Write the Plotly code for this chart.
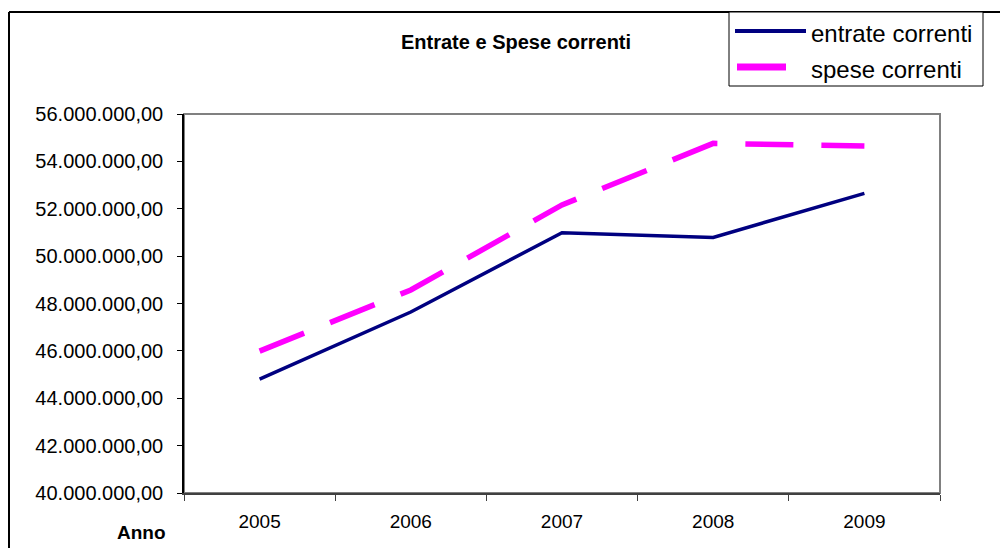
import plotly.graph_objects as go

years = ["2005", "2006", "2007", "2008", "2009"]
entrate_correnti = [44.81e6, 47.64e6, 50.99e6, 50.79e6, 52.65e6]
spese_correnti = [45.99e6, 48.57e6, 52.16e6, 54.76e6, 54.65e6]
y_ticks = [40e6, 42e6, 44e6, 46e6, 48e6, 50e6, 52e6, 54e6, 56e6]

OFF = 8  # page body margin offset
W, H = 1008 - OFF, 556 - 2 * OFF
# plot area in page pixel coordinates of the reference
PL, PR, PT, PB = 184, 940, 114, 493
L, R, T, B = PL - OFF, PR - OFF, PT - OFF, PB - OFF


def px(x):
    return (x - PL) / (PR - PL)


def py(y):
    return (PB - y) / (PB - PT)


fig = go.Figure()
fig.add_trace(go.Scatter(x=years, y=entrate_correnti, mode="lines", name="entrate correnti",
                         line=dict(color="#000080", width=3.5), showlegend=False))
fig.add_trace(go.Scatter(x=years, y=spese_correnti, mode="lines", name="spese correnti",
                         line=dict(color="#FF00FF", width=5.5, dash="48px,28px"), showlegend=False))

shapes = [
    # outer chart border (left and top edges; the rest lies outside the view)
    dict(type="line", xref="paper", yref="paper", x0=px(9), x1=px(9), y0=py(12), y1=py(560),
         line=dict(color="#000000", width=2), layer="below"),
    dict(type="line", xref="paper", yref="paper", x0=px(9), x1=px(1012), y0=py(12), y1=py(12),
         line=dict(color="#000000", width=2), layer="below"),
    # plot area border (gray)
    dict(type="rect", xref="paper", yref="paper", x0=0, x1=1, y0=0, y1=1,
         line=dict(color="#808080", width=2), layer="below"),
    # legend box
    dict(type="rect", xref="paper", yref="paper", x0=px(729), x1=px(983), y0=py(86), y1=py(12),
         line=dict(color="#000000", width=1), fillcolor="white", layer="above"),
    # legend samples
    dict(type="line", xref="paper", yref="paper", x0=px(735), x1=px(806), y0=py(31), y1=py(31),
         line=dict(color="#000080", width=4), layer="above"),
    dict(type="line", xref="paper", yref="paper", x0=px(737), x1=px(786), y0=py(67), y1=py(67),
         line=dict(color="#FF00FF", width=7), layer="above"),
]

FONT = "Liberation Sans, Arial"
annotations = [
    dict(text="<b>Entrate e Spese correnti</b>", xref="paper", yref="paper", x=px(516), y=py(42),
         xanchor="center", yanchor="middle", showarrow=False,
         font=dict(family=FONT, size=20, color="#000000")),
    dict(text="<b>Anno</b>", xref="paper", yref="paper", x=px(141), y=py(532),
         xanchor="center", yanchor="middle", showarrow=False,
         font=dict(family=FONT, size=19, color="#000000")),
    dict(text="entrate correnti", xref="paper", yref="paper", x=px(809), y=py(33),
         xanchor="left", yanchor="middle", showarrow=False,
         font=dict(family=FONT, size=24, color="#000000")),
    dict(text="spese correnti", xref="paper", yref="paper", x=px(809), y=py(70),
         xanchor="left", yanchor="middle", showarrow=False,
         font=dict(family=FONT, size=24, color="#000000")),
]

fig.update_layout(
    width=W, height=H,
    margin=dict(l=L, r=W - R, t=T, b=H - B, pad=0),
    paper_bgcolor="white", plot_bgcolor="white",
    separators=",.",
    font=dict(family=FONT, size=20, color="#000000"),
    shapes=shapes, annotations=annotations,
    xaxis=dict(type="category", range=[-0.5, 4.5], showgrid=False, zeroline=False,
               showline=True, linecolor="#404040", linewidth=2,
               ticks="outside", ticklen=6, tickcolor="#404040", tickwidth=1,
               tickson="boundaries", tickfont=dict(size=19),
               ticklabelstandoff=10),
    yaxis=dict(range=[40e6, 56e6], tickvals=y_ticks, tickformat=",.2f",
               showgrid=False, zeroline=False,
               showline=True, linecolor="#000000", linewidth=1.5,
               ticks="outside", ticklen=5, tickcolor="#000000", tickwidth=1,
               tickfont=dict(size=20), ticklabelstandoff=10),
)

fig.write_html("out.html")
